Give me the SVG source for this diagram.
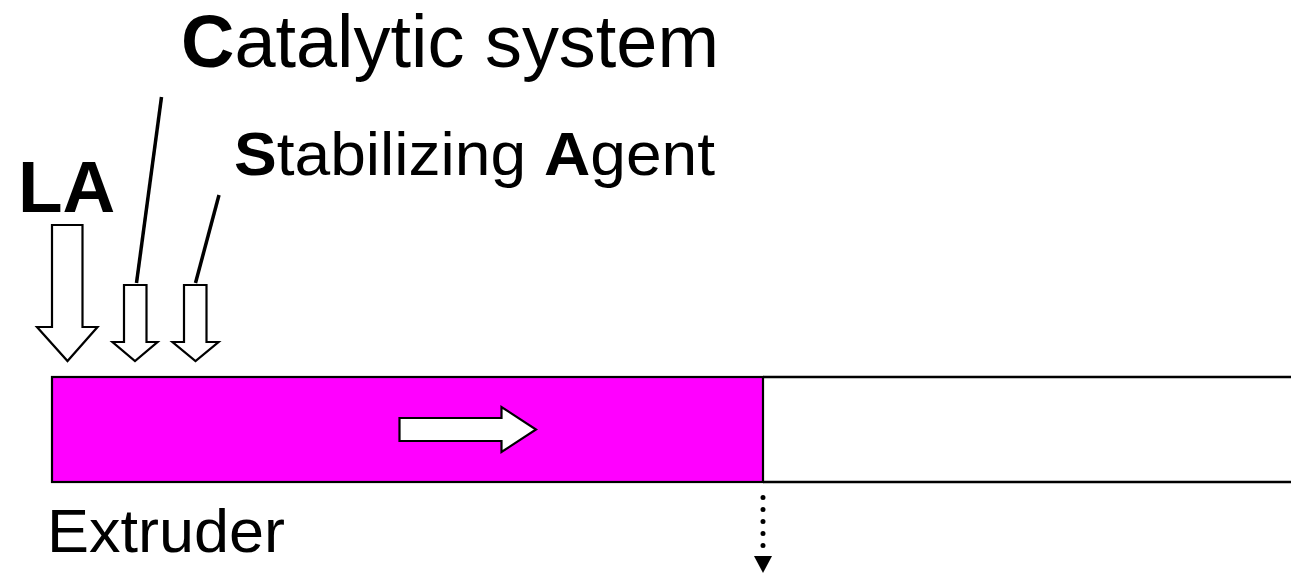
<svg xmlns="http://www.w3.org/2000/svg" width="1291" height="573" viewBox="0 0 1291 573">
<style>
.t{font-family:"Liberation Sans",Arial,sans-serif;fill:#000}
.b{font-weight:bold}
.ar{fill:#fff;stroke:#000;stroke-width:2.2;stroke-linejoin:miter}
.ln{stroke:#000;stroke-width:3.5;fill:none}
</style>
<rect width="1291" height="573" fill="#fff"/>
<g id="label-catalytic">
<text class="t" x="181" y="67" font-size="74" textLength="538" lengthAdjust="spacingAndGlyphs"><tspan class="b">C</tspan>atalytic system</text>
</g>
<g id="label-stabilizing">
<text class="t" x="234" y="175" font-size="61" textLength="481" lengthAdjust="spacingAndGlyphs"><tspan class="b">S</tspan>tabilizing <tspan class="b">A</tspan>gent</text>
</g>
<g id="label-la">
<text class="t b" x="18" y="212" font-size="73">LA</text>
</g>
<g id="label-extruder">
<text class="t" x="47" y="552" font-size="61" textLength="238" lengthAdjust="spacingAndGlyphs">Extruder</text>
</g>
<g id="arrow-la">
<polygon class="ar" points="52,225 82.5,225 82.5,327 97.5,327 67.5,361 37,327 52,327"/>
</g>
<g id="arrow-catalytic">
<polygon class="ar" points="124,285 146.5,285 146.5,342 157.5,342 135,361 112.5,342 124,342"/>
</g>
<g id="arrow-stabilizing">
<polygon class="ar" points="184,285 206.5,285 206.5,342 218.5,342 195.5,361 172.5,342 184,342"/>
</g>
<g id="extruder">
<rect x="52" y="377" width="711" height="105" fill="#ff00ff" stroke="#000" stroke-width="2.2"/>
<path d="M763,377 H1292 M763,482 H1292" stroke="#000" stroke-width="2.5" fill="none"/>
<polygon class="ar" points="399.5,418 501.5,418 501.5,407 536,429.5 501.5,452 501.5,441 399.5,441"/>
</g>
<g id="connectors">
<line class="ln" x1="161.5" y1="97" x2="136.5" y2="283"/>
<line class="ln" x1="219" y1="195" x2="195.5" y2="283"/>
<line x1="763" y1="497.5" x2="763" y2="546" stroke="#000" stroke-width="5" stroke-linecap="round" stroke-dasharray="0 12"/>
<polygon points="754,556 772,556 763,573" fill="#000"/>
</g>
</svg>
